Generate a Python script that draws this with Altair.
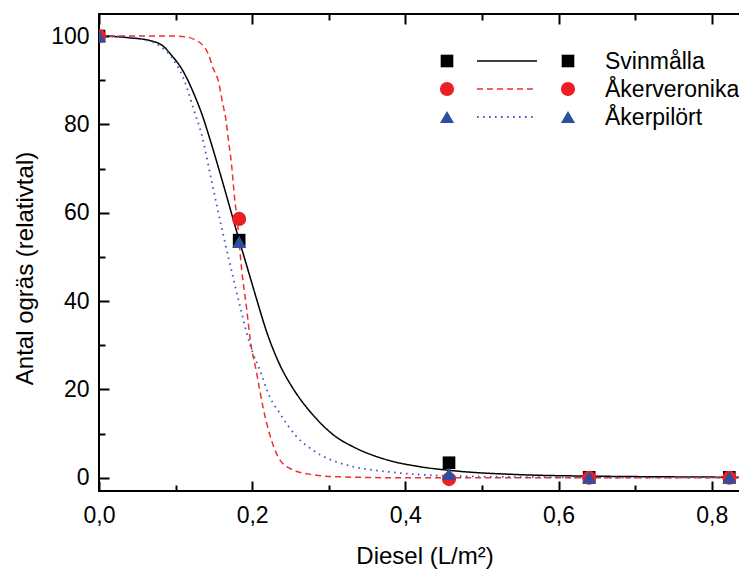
import altair as alt
import pandas as pd

FONT = "Liberation Sans"

series = ["Svinmålla", "Åkerveronika", "Åkerpilört"]

# measured points (Diesel L/m2, relative weed count)
dose = [0.0, 0.183, 0.457, 0.640, 0.823]
svinmalla_obs = [100.0, 53.8, 3.4, 0.1, 0.1]
akerveronika_obs = [100.0, 58.6, -0.3, 0.0, 0.0]
akerpilort_obs = [100.0, 53.4, 0.9, 0.1, 0.1]

# fitted curves
svinmalla_fit_x = [0.0, 0.02, 0.04, 0.066, 0.084, 0.093, 0.110, 0.123, 0.136, 0.146, 0.160,
                   0.180, 0.197, 0.206, 0.219, 0.236, 0.253, 0.279, 0.310, 0.332, 0.375,
                   0.419, 0.462, 0.549, 0.65, 0.75, 0.85]
svinmalla_fit_y = [100.0, 99.9, 99.6, 99.0, 97.7, 96.0, 92.0, 87.3, 81.5, 76.0, 67.8,
                   55.6, 45.6, 40.3, 33.0, 25.6, 20.3, 14.3, 9.2, 7.0, 4.1,
                   2.5, 1.6, 0.7, 0.35, 0.2, 0.1]

akerveronika_fit_x = [0.0, 0.10, 0.115, 0.127, 0.132, 0.143, 0.149, 0.156, 0.161, 0.166,
                      0.169, 0.173, 0.177, 0.181, 0.186, 0.193, 0.197, 0.206, 0.214,
                      0.225, 0.236, 0.253, 0.279, 0.314, 0.40, 0.85]
akerveronika_fit_y = [100.0, 100.0, 99.8, 99.0, 98.5, 95.8, 92.7, 89.7, 85.2, 80.7,
                      76.5, 71.0, 63.4, 57.5, 47.6, 38.0, 31.9, 23.6, 16.1,
                      8.6, 4.1, 1.8, 0.7, 0.2, 0.0, 0.0]

akerpilort_fit_x = [0.0, 0.03, 0.054, 0.08, 0.099, 0.112, 0.123, 0.134, 0.147, 0.162,
                    0.177, 0.186, 0.193, 0.201, 0.210, 0.223, 0.236, 0.258, 0.279,
                    0.292, 0.310, 0.332, 0.375, 0.419, 0.484, 0.60, 0.85]
akerpilort_fit_y = [100.0, 99.9, 99.4, 97.7, 94.2, 89.7, 83.7, 77.7, 67.2, 55.2,
                    44.0, 37.5, 32.7, 28.2, 24.4, 18.3, 14.6, 9.3, 6.3,
                    4.9, 3.6, 2.5, 1.4, 0.7, 0.3, 0.1, 0.0]

x_major = [0.0, 0.2, 0.4, 0.6, 0.8]
x_minor = [0.1, 0.3, 0.5, 0.7]
y_major = [0, 20, 40, 60, 80, 100]
y_minor = [10, 30, 50, 70, 90]

obs = pd.DataFrame({
    "x": dose * 3,
    "y": svinmalla_obs + akerveronika_obs + akerpilort_obs,
    "s": [series[0]] * 5 + [series[1]] * 5 + [series[2]] * 5,
})
fit = pd.concat([
    pd.DataFrame({"x": svinmalla_fit_x, "y": svinmalla_fit_y, "s": series[0]}),
    pd.DataFrame({"x": akerveronika_fit_x, "y": akerveronika_fit_y, "s": series[1]}),
    pd.DataFrame({"x": akerpilort_fit_x, "y": akerpilort_fit_y, "s": series[2]}),
])

colors_pt = ["#000000", "#ec1f26", "#2d4f9e"]
colors_ln = ["#000000", "#ee3030", "#3a5cc0"]
dashes = [[1, 0], [6, 4], [1.6, 4.4]]
shapes = ["square", "circle", "triangle-up"]
sizes = [160, 200, 200]
widths = [1.5, 1.5, 1.8]

x_scale = alt.Scale(domain=[0, 0.85], nice=False, zero=False)
y_scale = alt.Scale(domain=[-3, 105], nice=False, zero=False)

txt = dict(labelFont=FONT, labelFontSize=23, labelColor="black",
           titleFont=FONT, titleFontSize=24, titleColor="black", titleFontWeight="normal")


def axis(orient, values, size, labels=False, **kw):
    return alt.Axis(orient=orient, values=values, tickSize=size, offset=-size,
                    domain=False, grid=False, tickColor="black", tickWidth=2,
                    labels=labels, labelFlush=False, labelOverlap=False, **txt, **kw)


ax_bottom = axis("bottom", x_major, 10, labels=True, labelPadding=13,
                 labelExpr="replace(format(datum.value, '.1f'), '.', ',')",
                 titleBaseline="alphabetic", titleY=82)
ax_left = axis("left", y_major, 10, labels=True, labelPadding=10,
               titleBaseline="alphabetic", titleX=-77, titleY=254, titleAngle=270)
axis_pairs = [
    (ax_bottom, ax_left),
    (axis("top", x_major, 10), axis("right", y_major, 10)),
    (axis("bottom", x_minor, 6), axis("left", y_minor, 6)),
    (axis("top", x_minor, 6), axis("right", y_minor, 6)),
]

layers = []
for i, name in enumerate(series):
    if i < len(axis_pairs):
        axx, axy = axis_pairs[i]
    else:
        axx, axy = None, None
    xt = "Diesel (L/m²)" if i == 0 else None
    yt = "Antal ogräs (relativtal)" if i == 0 else None
    layers.append(
        alt.Chart(fit[fit.s == name]).mark_line(
            color=colors_ln[i], strokeWidth=widths[i], strokeDash=dashes[i],
            interpolate="monotone", clip=True,
        ).encode(
            x=alt.X("x:Q", scale=x_scale, axis=axx, title=xt),
            y=alt.Y("y:Q", scale=y_scale, axis=axy, title=yt),
        )
    )

for i, name in enumerate(series):
    if i == 0:
        axx, axy = axis_pairs[3]
    else:
        axx, axy = None, None
    layers.append(
        alt.Chart(obs[obs.s == name]).mark_point(
            shape=shapes[i], filled=True, opacity=1, color=colors_pt[i],
            size=sizes[i], clip=True,
        ).encode(
            x=alt.X("x:Q", scale=x_scale, axis=axx, title=None),
            y=alt.Y("y:Q", scale=y_scale, axis=axy, title=None),
        )
    )

# legend (Origin style: symbol, line, symbol, label)
leg_rows_y = [47, 75, 103]
for i, name in enumerate(series):
    ly = leg_rows_y[i]
    for lx in (348, 469):
        layers.append(
            alt.Chart(pd.DataFrame({"s": [name]})).mark_point(
                shape=shapes[i], filled=True, opacity=1, color=colors_pt[i], size=sizes[i],
            ).encode(x=alt.value(lx), y=alt.value(ly))
        )
    layers.append(
        alt.Chart(pd.DataFrame({"s": [name]})).mark_rule(
            color=colors_ln[i], strokeWidth=widths[i], strokeDash=dashes[i],
        ).encode(x=alt.value(378), x2=alt.value(438), y=alt.value(ly))
    )
    layers.append(
        alt.Chart(pd.DataFrame({"s": [name]})).mark_text(
            font=FONT, fontSize=23, color="black", align="left", baseline="middle",
        ).encode(x=alt.value(506), y=alt.value(ly + 1), text="s:N")
    )

chart = alt.layer(*layers).resolve_axis(x="independent", y="independent").properties(
    width=651, height=477,
    autosize=alt.AutoSizeParams(type="none"),
    padding={"left": 91, "top": 6, "right": -11, "bottom": 79},
).configure_view(stroke="black", strokeWidth=2)

chart.save("out.html", embed_options={"renderer": "svg", "actions": False})
